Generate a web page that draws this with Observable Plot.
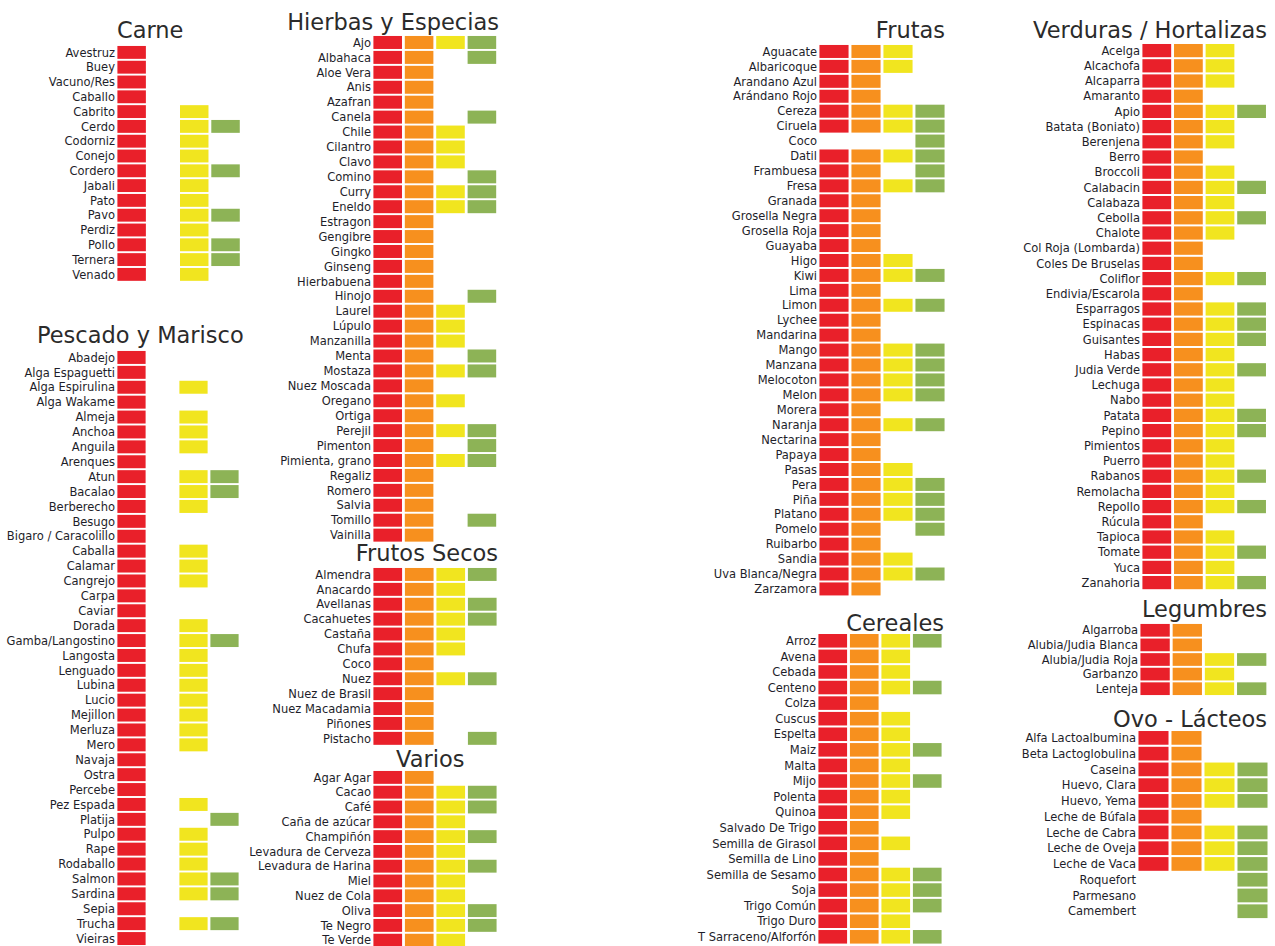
<!DOCTYPE html>
<html><head><meta charset="utf-8">
<script src="https://cdn.jsdelivr.net/npm/d3@7"></script>
<script src="https://cdn.jsdelivr.net/npm/@observablehq/plot@0.6"></script>
<style>
body{margin:0;background:#fff;}
#chart{position:relative;width:1275px;height:946px;overflow:hidden;font-family:"DejaVu Sans",sans-serif;}
.ttl{position:absolute;font-size:22.5px;line-height:1;color:#2b2b2b;white-space:nowrap;}
.pnl{position:absolute;line-height:0;}
.pnl svg{display:block;}
</style></head><body><div id="chart"></div><script>
// ---------- DATA ----------
const kinds = ["R","O","Y","G"];
const kindColors = ["#e9202a","#f7901e","#f1e51f","#8db356"];

const carneItems = ["Avestruz","Buey","Vacuno/Res","Caballo","Cabrito","Cerdo","Codorniz","Conejo","Cordero","Jabali","Pato","Pavo","Perdiz","Pollo","Ternera","Venado"];
const carneFlags = ["R","R","R","R","RY","RYG","RY","RY","RYG","RY","RY","RYG","RY","RYG","RYG","RY"];

const pescadoItems = ["Abadejo","Alga Espaguetti","Alga Espirulina","Alga Wakame","Almeja","Anchoa","Anguila","Arenques","Atun","Bacalao","Berberecho","Besugo","Bigaro / Caracolillo","Caballa","Calamar","Cangrejo","Carpa","Caviar","Dorada","Gamba/Langostino","Langosta","Lenguado","Lubina","Lucio","Mejillon","Merluza","Mero","Navaja","Ostra","Percebe","Pez Espada","Platija","Pulpo","Rape","Rodaballo","Salmon","Sardina","Sepia","Trucha","Vieiras"];
const pescadoFlags = ["R","R","RY","R","RY","RY","RY","R","RYG","RYG","RY","R","R","RY","RY","RY","R","R","RY","RYG","RY","RY","RY","RY","RY","RY","RY","R","R","R","RY","RG","RY","RY","RY","RYG","RYG","R","RYG","R"];

const hierbasItems = ["Ajo","Albahaca","Aloe Vera","Anis","Azafran","Canela","Chile","Cilantro","Clavo","Comino","Curry","Eneldo","Estragon","Gengibre","Gingko","Ginseng","Hierbabuena","Hinojo","Laurel","Lúpulo","Manzanilla","Menta","Mostaza","Nuez Moscada","Oregano","Ortiga","Perejil","Pimenton","Pimienta, grano","Regaliz","Romero","Salvia","Tomillo","Vainilla"];
const hierbasFlags = ["ROYG","ROG","RO","RO","RO","ROG","ROY","ROY","ROY","ROG","ROYG","ROYG","RO","RO","RO","RO","RO","ROG","ROY","ROY","ROY","ROG","ROYG","RO","ROY","RO","ROYG","ROG","ROYG","RO","RO","RO","ROG","RO"];

const frutosSecosItems = ["Almendra","Anacardo","Avellanas","Cacahuetes","Castaña","Chufa","Coco","Nuez","Nuez de Brasil","Nuez Macadamia","Piñones","Pistacho"];
const frutosSecosFlags = ["ROYG","ROY","ROYG","ROYG","ROY","ROY","RO","ROYG","RO","RO","RO","ROG"];

const variosItems = ["Agar Agar","Cacao","Café","Caña de azúcar","Champiñón","Levadura de Cerveza","Levadura de Harina","Miel","Nuez de Cola","Oliva","Te Negro","Te Verde"];
const variosFlags = ["RO","ROYG","ROYG","ROY","ROYG","ROY","ROYG","ROY","ROY","ROYG","ROYG","ROY"];

const frutasItems = ["Aguacate","Albaricoque","Arandano Azul","Arándano Rojo","Cereza","Ciruela","Coco","Datil","Frambuesa","Fresa","Granada","Grosella Negra","Grosella Roja","Guayaba","Higo","Kiwi","Lima","Limon","Lychee","Mandarina","Mango","Manzana","Melocoton","Melon","Morera","Naranja","Nectarina","Papaya","Pasas","Pera","Piña","Platano","Pomelo","Ruibarbo","Sandia","Uva Blanca/Negra","Zarzamora"];
const frutasFlags = ["ROY","ROY","RO","RO","ROYG","ROYG","G","ROYG","ROG","ROYG","RO","RO","RO","RO","ROY","ROYG","RO","ROYG","RO","RO","ROYG","ROYG","ROYG","ROYG","RO","ROYG","RO","RO","ROY","ROYG","ROYG","ROYG","ROG","RO","ROY","ROYG","RO"];

const cerealesItems = ["Arroz","Avena","Cebada","Centeno","Colza","Cuscus","Espelta","Maiz","Malta","Mijo","Polenta","Quinoa","Salvado De Trigo","Semilla de Girasol","Semilla de Lino","Semilla de Sesamo","Soja","Trigo Común","Trigo Duro","T Sarraceno/Alforfón"];
const cerealesFlags = ["ROYG","ROY","ROY","ROYG","RO","ROY","ROY","ROYG","ROY","ROYG","ROY","ROY","RO","ROY","RO","ROYG","ROYG","ROYG","ROY","ROYG"];

const verdurasItems = ["Acelga","Alcachofa","Alcaparra","Amaranto","Apio","Batata (Boniato)","Berenjena","Berro","Broccoli","Calabacin","Calabaza","Cebolla","Chalote","Col Roja (Lombarda)","Coles De Bruselas","Coliflor","Endivia/Escarola","Esparragos","Espinacas","Guisantes","Habas","Judia Verde","Lechuga","Nabo","Patata","Pepino","Pimientos","Puerro","Rabanos","Remolacha","Repollo","Rúcula","Tapioca","Tomate","Yuca","Zanahoria"];
const verdurasFlags = ["ROY","ROY","ROY","RO","ROYG","ROY","ROY","RO","ROY","ROYG","ROY","ROYG","ROY","RO","RO","ROYG","RO","ROYG","ROYG","ROYG","ROY","ROYG","ROY","ROY","ROYG","ROYG","ROY","ROY","ROYG","ROY","ROYG","RO","ROY","ROYG","ROY","ROYG"];

const legumbresItems = ["Algarroba","Alubia/Judia Blanca","Alubia/Judia Roja","Garbanzo","Lenteja"];
const legumbresFlags = ["RO","RO","ROYG","ROY","ROYG"];

const ovoItems = ["Alfa Lactoalbumina","Beta Lactoglobulina","Caseina","Huevo, Clara","Huevo, Yema","Leche de Búfala","Leche de Cabra","Leche de Oveja","Leche de Vaca","Roquefort","Parmesano","Camembert"];
const ovoFlags = ["RO","RO","ROYG","ROYG","ROYG","RO","ROYG","ROYG","ROYG","G","G","G"];

const groupTitles = ["Carne","Pescado y Marisco","Hierbas y Especias","Frutos Secos","Varios","Frutas","Cereales","Verduras / Hortalizas","Legumbres","Ovo - Lácteos"];

// ---------- LAYOUT ----------
// rx: left of first cell column, xs: column step, y0: first row centre, ys: row step, ml: label margin
const layout = [
  {items: carneItems, flags: carneFlags, rx:117, xs:31.3, y0:52.3, ys:14.8, ml:115, t:{left:117, base:38}},
  {items: pescadoItems, flags: pescadoFlags, rx:117, xs:31.0, y0:357.3, ys:14.9, ml:115, t:{left:37, base:343}},
  {items: hierbasItems, flags: hierbasFlags, rx:373.5, xs:31.4, y0:42.3, ys:14.93, ml:140, t:{right:499, base:30}},
  {items: frutosSecosItems, flags: frutosSecosFlags, rx:373.5, xs:31.5, y0:574.3, ys:14.9, ml:140, t:{right:498, base:561.5}},
  {items: variosItems, flags: variosFlags, rx:373.5, xs:31.5, y0:777.3, ys:14.8, ml:140, t:{left:396, base:767.5}},
  {items: frutasItems, flags: frutasFlags, rx:819.3, xs:32.0, y0:51.7, ys:14.93, ml:140, t:{right:945, base:37.7}},
  {items: cerealesItems, flags: cerealesFlags, rx:818.3, xs:31.5, y0:640.7, ys:15.58, ml:140, t:{right:944, base:630.7}},
  {items: verdurasItems, flags: verdurasFlags, rx:1142.3, xs:31.6, y0:51, ys:15.2, ml:140, t:{right:1267, base:37.7}},
  {items: legumbresItems, flags: legumbresFlags, rx:1140.7, xs:32.2, y0:630, ys:14.6, ml:140, t:{right:1267, base:616.7}},
  {items: ovoItems, flags: ovoFlags, rx:1138.3, xs:33.0, y0:738.3, ys:15.76, ml:140, t:{right:1267, base:726.7}}
];

const chart = document.getElementById("chart");
const PI = 0.09, PO = 0.045, PIY = 0.13, POY = 0.065;

layout.forEach((g, gi) => {
  // title
  const tt = document.createElement("div");
  tt.className = "ttl";
  tt.textContent = groupTitles[gi];
  tt.style.top = (g.t.base - 0.846 * 22.5) + "px";
  if (g.t.left != null) tt.style.left = g.t.left + "px";
  else tt.style.right = (1275 - g.t.right) + "px";
  chart.appendChild(tt);

  // data table
  const rows = [];
  g.items.forEach((name, i) => {
    for (const k of g.flags[i]) rows.push({name, k});
  });
  const n = g.items.length;
  const rangeStart = g.rx - PO * g.xs;
  const width = g.ml + 4 * g.xs;
  const height = n * g.ys;
  const svg = Plot.plot({
    width, height,
    marginLeft: g.ml, marginRight: 0, marginTop: 0, marginBottom: 0,
    style: {background: "transparent", maxWidth: "none", overflow: "visible",
            width: width + "px", height: height + "px",
            fontFamily: "DejaVu Sans, sans-serif", fontSize: "11.5px", color: "#1e1e2a"},
    x: {type: "band", domain: kinds, paddingInner: PI, paddingOuter: PO, round: false, axis: null},
    y: {type: "band", domain: g.items, paddingInner: PIY, paddingOuter: POY, round: false, tickSize: 0, tickPadding: 1.5, label: null},
    color: {domain: kinds, range: kindColors},
    marks: [
      Plot.cell(rows, {x: "k", y: "name", fill: "k", inset: 0})
    ]
  });
  const wrap = document.createElement("div");
  wrap.className = "pnl";
  wrap.style.left = (rangeStart - g.ml) + "px";
  wrap.style.top = (g.y0 - g.ys / 2) + "px";
  wrap.style.width = width + "px";
  wrap.appendChild(svg);
  chart.appendChild(wrap);
});
</script></body></html>
